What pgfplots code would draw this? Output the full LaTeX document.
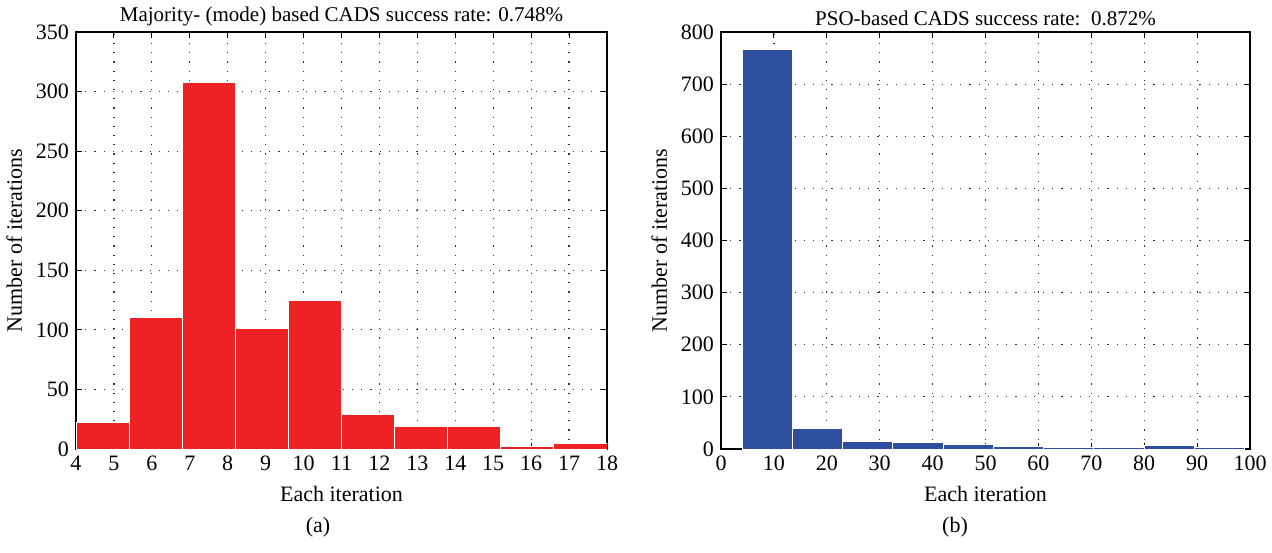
\documentclass[border=0pt]{standalone}
\usepackage{fontspec}
\setmainfont{Liberation Serif}
\usepackage{pgfplots}
\pgfplotsset{compat=1.18}
\definecolor{barred}{HTML}{EE2224}
\definecolor{barblue}{HTML}{2E4E9F}
\begin{document}
\begin{tikzpicture}
\useasboundingbox (0,0) rectangle (636pt,276pt);
\pgfplotsset{every axis/.append style={
  scale only axis, height=208.5pt,
  axis line style={line width=0.6pt, black},
  tick align=inside, xtick pos=both, ytick pos=both,
  major tick length=3pt,
  tick style={black, line width=0.5pt},
  grid=major,
  major grid style={black!80, line width=0.6pt, dash pattern=on 0.6pt off 4pt},
  /pgf/number format/assume math mode=true,
  ticklabel style={font=\fontsize{11}{13}\selectfont},
  label style={font=\fontsize{11}{13}\selectfont},
  xlabel style={yshift=-1pt},
  title style={font=\fontsize{10.5}{12}\selectfont, yshift=-6.5pt},
  ymin=0,
  xlabel={Each iteration}, ylabel={Number of iterations},
}}
\begin{axis}[at={(38pt,51.5pt)}, anchor=south west, width=265.5pt,
  xmin=4, xmax=18, ymax=350,
  xtick={4,5,...,18}, ytick={0,50,...,350},
  title={Majority- (mode) based CADS success rate: 0.748\%}]
\addplot[ybar interval, fill=barred, draw=white, line width=0.5pt] coordinates {
(4,22) (5.4,110) (6.8,308) (8.2,101) (9.6,125) (11,29) (12.4,19) (13.8,19) (15.2,2) (16.6,5) (18,5)};
\end{axis}
\begin{axis}[at={(360.5pt,51.5pt)}, anchor=south west, width=264.5pt,
  xmin=0, xmax=100, ymax=800,
  xtick={0,10,...,100}, ytick={0,100,...,800},
  title={PSO-based CADS success rate:\ \ 0.872\%}]
\addplot[ybar interval, fill=barblue, draw=white, line width=0.5pt] coordinates {
(4,767) (13.5,40) (23,14) (32.5,13) (42,9) (51.5,4.5) (61,2.5) (70.5,2) (80,7) (89.5,2.5) (99,2.5)};
\end{axis}
\node[font=\fontsize{11}{13}\selectfont] at (159pt,12.5pt) {(a)};
\node[font=\fontsize{11}{13}\selectfont] at (477.5pt,12.5pt) {(b)};
\end{tikzpicture}
\end{document}
